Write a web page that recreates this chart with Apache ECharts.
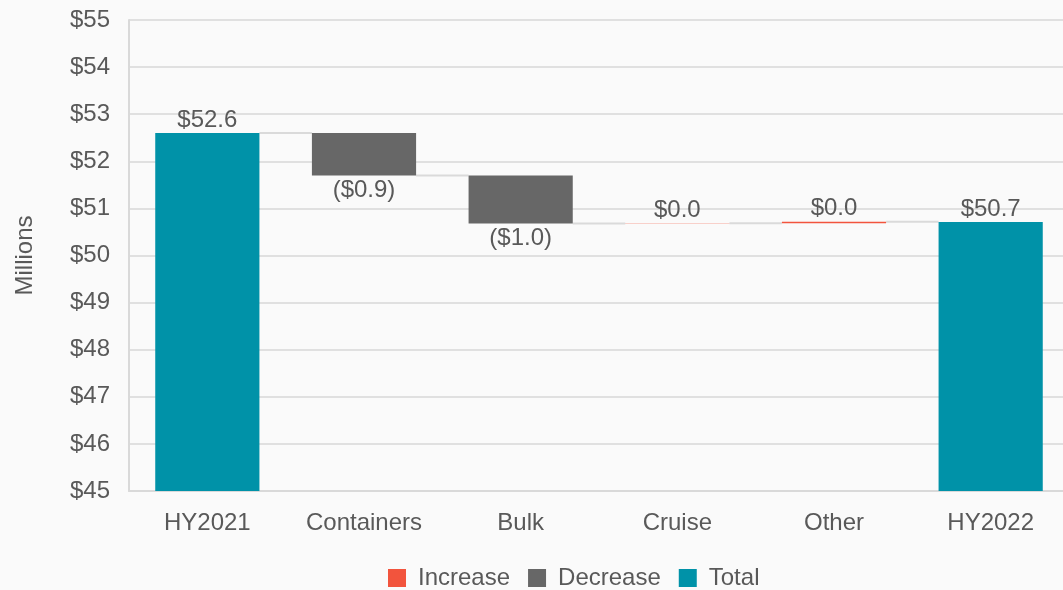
<!DOCTYPE html>
<html><head><meta charset="utf-8">
<script src="https://cdn.jsdelivr.net/npm/echarts@6/dist/echarts.min.js"></script>
<style>html,body{margin:0;padding:0;background:#fafafa}#c{width:1063px;height:590px}</style>
</head><body><div id="c"></div>
<script>
const categories = ['HY2021','Containers','Bulk','Cruise','Other','HY2022'];
const kinds = ['total','change','change','change','change','total'];
const values = [52.6, -0.9, -1.02, 0.004, 0.03, 50.71];
const yTicks = {min:45, max:55, interval:1};
const legendNames = ['Increase','Decrease','Total'];

const C_INC = '#F2543D', C_DEC = '#676767', C_TOT = '#0092A8', TXT = '#595959';

// build stacks
const base = [], inc = [], dec = [], tot = [], levels = [];
let level = 0;
values.forEach((v,i)=>{
  if(kinds[i]==='total'){ level = v; base.push(0); tot.push(v); inc.push('-'); dec.push('-'); }
  else {
    const start = level, end = level + v; level = end;
    base.push(Math.min(start,end));
    if(v>=0){ inc.push(v); dec.push('-'); } else { dec.push(-v); inc.push('-'); }
    tot.push('-');
  }
  levels.push(level);
});
const connectors = levels.slice(0,-1).map((l,i)=>[i,l]);
const fmt = x => '$' + Math.abs(x).toFixed(1);
const font = {fontFamily:'Liberation Sans, Arial, sans-serif', fontSize:24, color:TXT};
const BW = 0.665;

const chart = echarts.init(document.getElementById('c'));
chart.setOption({
  backgroundColor:'#fafafa',
  animation:false,
  textStyle:{fontFamily:'Liberation Sans, Arial, sans-serif'},
  grid:{left:129, right:-6, top:20, bottom:99, containLabel:false, outerBoundsMode:'none'},
  legend:{data:legendNames.map(n=>({name:n, icon:'rect'})), bottom:0, left:388, itemWidth:18, itemHeight:18, itemGap:18,
          padding:0, textStyle:{...font, padding:[0,0,0,7]}},
  xAxis:{type:'category', data:categories,
    axisLine:{lineStyle:{color:'#d9d9d9', width:2}}, axisTick:{show:false},
    axisLabel:{...font, margin:20}},
  yAxis:{type:'value', min:yTicks.min, max:yTicks.max, interval:yTicks.interval,
    name:'Millions', nameLocation:'middle', nameGap:92, nameRotate:90, nameTextStyle:{...font},
    axisLine:{show:true, lineStyle:{color:'#d9d9d9', width:2}},
    splitLine:{lineStyle:{color:'#e0e0e0', width:2}},
    axisLabel:{...font, margin:19, formatter:v=>'$'+v}},
  series:[
    {name:'base', type:'bar', stack:'w', data:base, barWidth:(BW*100)+'%', itemStyle:{color:'transparent'}, silent:true},
    {name:'Increase', type:'bar', stack:'w', data:inc, itemStyle:{color:C_INC},
      label:{show:true, position:'top', distance:1, ...font, formatter:p=>fmt(p.value)}},
    {name:'Decrease', type:'bar', stack:'w', data:dec, itemStyle:{color:C_DEC},
      label:{show:true, position:'bottom', distance:3, ...font, formatter:p=>'('+fmt(p.value)+')'}},
    {name:'Total', type:'bar', stack:'w', data:tot, itemStyle:{color:C_TOT},
      label:{show:true, position:'top', distance:1, ...font, formatter:p=>fmt(p.value)}},
    {name:'conn', type:'custom', data:connectors, z:1, silent:true,
      renderItem:function(params, api){
        const i = api.value(0), y = api.value(1);
        const p1 = api.coord([i, y]), p2 = api.coord([i+1, y]);
        const hw = api.size([1,0])[0]*BW/2;
        return {type:'line', shape:{x1:p1[0]+hw, y1:p1[1], x2:p2[0]-hw, y2:p2[1]},
                style:{stroke:'#dadada', lineWidth:2}};
      }}
  ]
});
</script></body></html>
